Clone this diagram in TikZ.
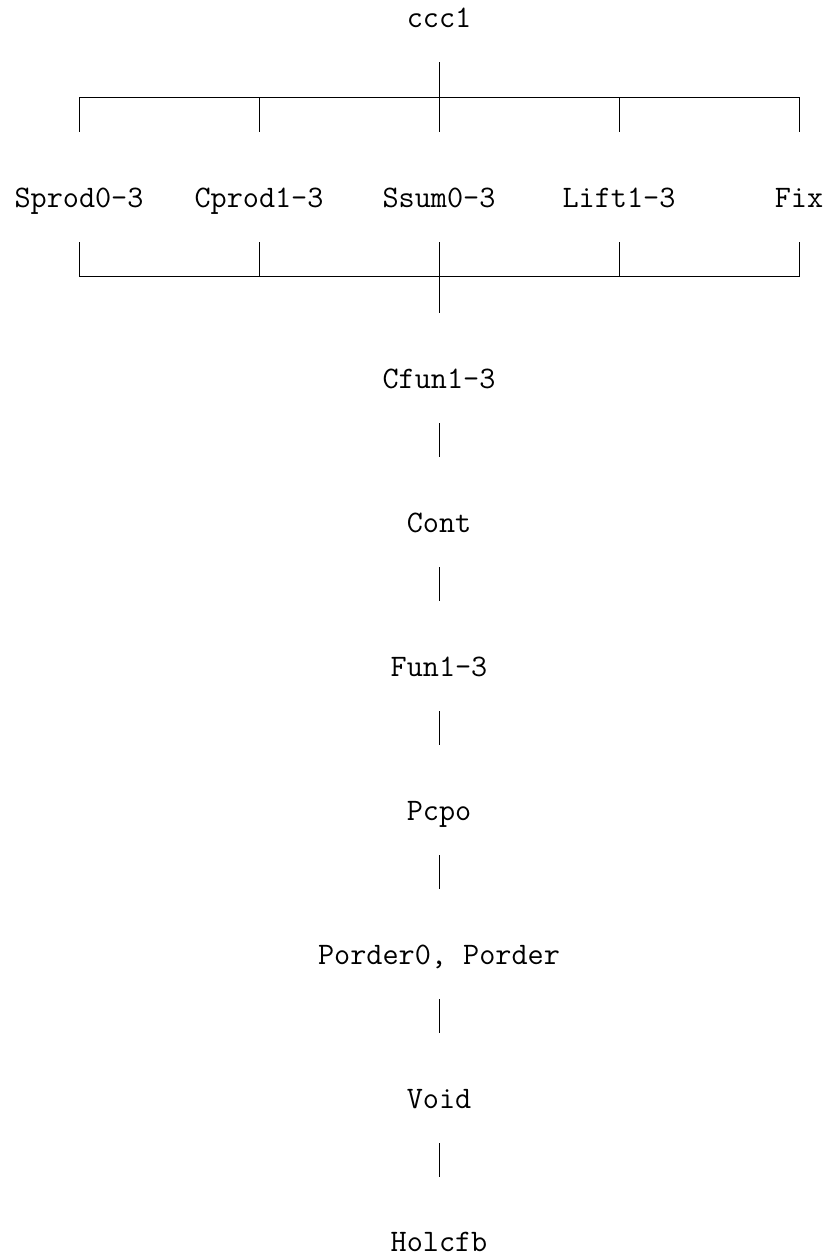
\documentclass[tikz,border=0pt]{standalone}
\usepackage{fontspec}
\usetikzlibrary{calc}
\begin{document}
\begin{tikzpicture}[x=1pt,y=1pt,
  lbl/.style={anchor=base, inner xsep=0pt, inner ysep=0pt, text height=75pt, text depth=35pt,
    font=\ttfamily\fontsize{31.3}{36}\selectfont},
  conn/.style={line width=1pt, black}]
\useasboundingbox (0,0) rectangle (827,-1256);
\node[lbl, text height=22pt] (ccc1) at (439,-27) {ccc1};
\node[lbl] (sprod) at (79,-207) {Sprod0-3};
\node[lbl] (cprod) at (259,-207) {Cprod1-3};
\node[lbl] (ssum) at (439,-207) {Ssum0-3};
\node[lbl] (lift) at (619,-207) {Lift1-3};
\node[lbl] (fix) at (799,-207) {Fix};
\node[lbl] (cfun) at (439,-388) {Cfun1-3};
\node[lbl] (cont) at (439,-532) {Cont};
\node[lbl] (fun) at (439,-676) {Fun1-3};
\node[lbl] (pcpo) at (439,-820) {Pcpo};
\node[lbl] (porder) at (439,-964) {Porder0, Porder};
\node[lbl] (void) at (439,-1108) {Void};
\node[lbl, text height=74pt, text depth=0pt] (holcfb) at (439,-1251) {Holcfb};
% upper bracket
\coordinate (top) at ($(ccc1.south)+(0,-35)$);
\draw[conn] (ccc1.south) -- (top);
\draw[conn] (sprod.north |- top) -- (fix.north |- top);
\foreach \n in {sprod,cprod,ssum,lift,fix} \draw[conn] (\n.north) -- (\n.north |- top);
% lower bracket
\coordinate (bot) at ($(cfun.north)+(0,36)$);
\draw[conn] (cfun.north) -- (bot);
\draw[conn] (sprod.south |- bot) -- (fix.south |- bot);
\foreach \n in {sprod,cprod,ssum,lift,fix} \draw[conn] (\n.south) -- (\n.south |- bot);
% chain
\draw[conn] (cfun.south) -- (cont.north);
\draw[conn] (cont.south) -- (fun.north);
\draw[conn] (fun.south) -- (pcpo.north);
\draw[conn] (pcpo.south) -- (porder.north);
\draw[conn] (porder.south) -- (void.north);
\draw[conn] (void.south) -- (holcfb.north);
\end{tikzpicture}
\end{document}
